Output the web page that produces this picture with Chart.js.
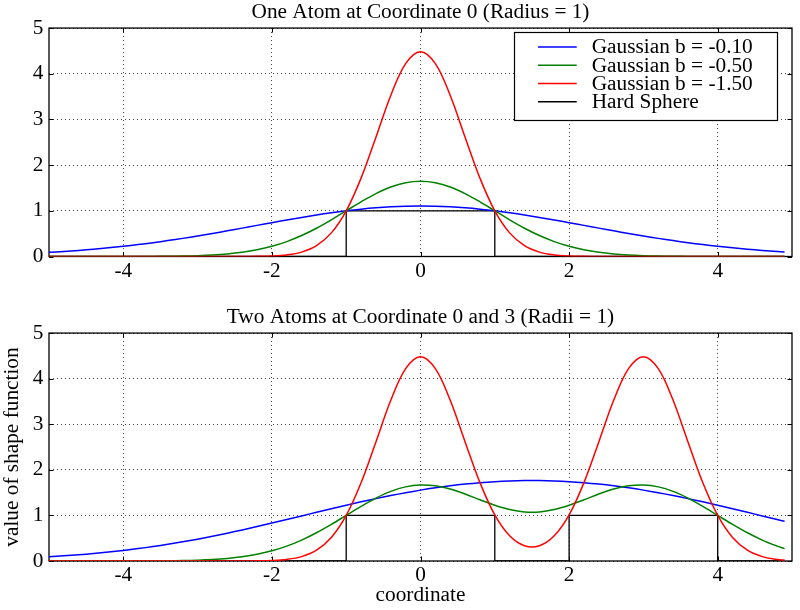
<!DOCTYPE html>
<html><head><meta charset="utf-8">
<script src="https://cdn.jsdelivr.net/npm/chart.js@4.4.1/dist/chart.umd.min.js"></script>
<style>
html,body{margin:0;padding:0;background:#fff;overflow:hidden;width:800px;height:610px;}
#c1{position:absolute;left:0;top:0;}
#c2{position:absolute;left:0;top:305px;}
</style></head><body>
<canvas id="c1" width="800" height="290"></canvas>
<canvas id="c2" width="800" height="305"></canvas>
<script>
// ---------- data ----------
const titles = ['One Atom at Coordinate 0 (Radius = 1)', 'Two Atoms at Coordinate 0 and 3 (Radii = 1)'];
const xLabel = 'coordinate';
const yLabel = 'value of shape function';
const seriesNames = ['Gaussian b = -0.10', 'Gaussian b = -0.50', 'Gaussian b = -1.50', 'Hard Sphere'];
const xTicks = [-4, -2, 0, 2, 4];
const yTicks = [0, 1, 2, 3, 4, 5];

const xs = [-5.0,-4.8,-4.6,-4.4,-4.2,-4.0,-3.8,-3.6,-3.4,-3.2,-3.0,-2.8,-2.6,-2.4,-2.2,-2.0,-1.8,-1.6,-1.4,-1.2,-1.0,-0.8,-0.6,-0.4,-0.2,
  0.0,0.2,0.4,0.6,0.8,1.0,1.2,1.4,1.6,1.8,2.0,2.2,2.4,2.6,2.8,3.0,3.2,3.4,3.6,3.8,4.0,4.2,4.4,4.6,4.8,4.9];

// one atom
const topBlue = [0.0907,0.1104,0.1332,0.1594,0.1894,0.2231,0.2608,0.3024,0.3478,0.3969,0.4493,0.5046,0.5621,0.6213,0.6811,0.7408,0.7993,0.8556,0.9085,0.9570,1.0000,1.0367,1.0661,1.0876,1.1008,
  1.1052,
  1.1008,1.0876,1.0661,1.0367,1.0000,0.9570,0.9085,0.8556,0.7993,0.7408,0.6811,0.6213,0.5621,0.5046,0.4493,0.3969,0.3478,0.3024,0.2608,0.2231,0.1894,0.1594,0.1332,0.1104,
  0.1002];
const topGreen = [0.0000,0.0000,0.0000,0.0001,0.0002,0.0006,0.0012,0.0025,0.0051,0.0099,0.0183,0.0327,0.0561,0.0926,0.1466,0.2231,0.3263,0.4584,0.6188,0.8025,1.0000,1.1972,1.3771,1.5220,1.6161,
  1.6487,
  1.6161,1.5220,1.3771,1.1972,1.0000,0.8025,0.6188,0.4584,0.3263,0.2231,0.1466,0.0926,0.0561,0.0327,0.0183,0.0099,0.0051,0.0025,0.0012,0.0006,0.0002,0.0001,0.0000,0.0000,
  0.0000];
const topRed = [0,0,0,0,0,0,0,0,0,0,0,0,0.0002,0.0008,0.0032,0.0111,0.0347,0.0963,0.2369,0.5169,1.0000,1.7160,2.6117,3.5254,4.2207,
  4.4817,
  4.2207,3.5254,2.6117,1.7160,1.0000,0.5169,0.2369,0.0963,0.0347,0.0111,0.0032,0.0008,0.0002,0,0,0,0,0,0,0,0,0,0,0,0,
  0];
const topHardX = [-5, -1, -1, 1, 1, 4.9];
const topHardY = [0, 0, 1, 1, 0, 0];

// two atoms
const botBlue = [0.0925,0.1129,0.1366,0.1640,0.1956,0.2313,0.2716,0.3166,0.3662,0.4206,0.4795,0.5428,0.6101,0.6811,0.7551,0.8315,0.9097,0.9888,1.0679,1.1464,1.2231,1.2975,1.3685,1.4354,1.4977,
  1.5545,
  1.6054,1.6497,1.6874,1.7178,1.7408,1.7563,1.7641,1.7641,1.7563,1.7408,1.7178,1.6874,1.6497,1.6054,1.5545,1.4977,1.4354,1.3685,1.2975,1.2231,1.1464,1.0679,0.9888,0.9097,
  0.8705];
const botGreen = [0.0000,0.0000,0.0000,0.0001,0.0002,0.0006,0.0012,0.0025,0.0051,0.0099,0.0183,0.0327,0.0561,0.0926,0.1466,0.2231,0.3263,0.4584,0.6189,0.8027,1.0006,1.1984,1.3796,1.5271,1.6260,
  1.6670,
  1.6488,1.5781,1.4697,1.3438,1.2231,1.1288,1.0772,1.0772,1.1288,1.2231,1.3438,1.4697,1.5781,1.6488,1.6670,1.6260,1.5271,1.3796,1.1984,1.0006,0.8027,0.6189,0.4584,0.3263,
  0.2712];
const botRed = [0,0,0,0,0,0,0,0,0,0,0,0,0.0002,0.0008,0.0032,0.0111,0.0347,0.0963,0.2369,0.5169,1.0000,1.7160,2.6117,3.5254,4.2207,
  4.4817,
  4.2207,3.5256,2.6125,1.7192,1.0111,0.5516,0.3332,0.3332,0.5516,1.0111,1.7192,2.6125,3.5256,4.2207,4.4817,4.2207,3.5254,2.6117,1.7160,1.0000,0.5169,0.2369,0.0963,0.0347,
  0.0199];
const botHardX = [-5, -1, -1, 1, 1, 2, 2, 4, 4, 4.9];
const botHardY = [0, 0, 1, 1, 0, 0, 1, 1, 0, 0];

// ---------- styling ----------
const FONT = '"Liberation Serif", "Times New Roman", Times, serif';
const FS = 21.3;
Chart.defaults.font.family = FONT;
Chart.defaults.font.size = FS;
Chart.defaults.color = '#000';
const colors = ['#0000ff', '#008000', '#ff0000', '#000000'];

const pts = (X, Y) => X.map((x, i) => ({x: x, y: Y[i]}));

function makeDatasets(b, g, r, hx, hy) {
  const ys = [b, g, r];
  const ds = ys.map((y, i) => ({
    label: seriesNames[i], data: pts(xs, y), borderColor: colors[i], backgroundColor: colors[i],
    borderWidth: 1.5, pointRadius: 0, tension: 0.35, fill: false, order: 3 - i
  }));
  ds.push({label: seriesNames[3], data: pts(hx, hy), borderColor: colors[3], backgroundColor: colors[3],
    borderWidth: 1.3, pointRadius: 0, tension: 0, fill: false, order: 4});
  return ds;
}

const framePlugin = {
  id: 'frame',
  beforeDatasetsDraw(chart) {
    const {ctx, chartArea: a, scales: {x, y}} = chart;
    ctx.save();
    ctx.strokeStyle = '#000';
    ctx.lineWidth = 1.3;
    ctx.strokeRect(a.left, a.top, a.right - a.left, a.bottom - a.top);
    ctx.lineWidth = 1;
    ctx.beginPath();
    const L = 4.5;
    x.ticks.forEach(t => {
      const p = Math.round(x.getPixelForValue(t.value)) + 0.5;
      ctx.moveTo(p, a.bottom); ctx.lineTo(p, a.bottom - L);
      ctx.moveTo(p, a.top); ctx.lineTo(p, a.top + L);
    });
    y.ticks.forEach(t => {
      const p = Math.round(y.getPixelForValue(t.value)) + 0.5;
      ctx.moveTo(a.left, p); ctx.lineTo(a.left + L, p);
      ctx.moveTo(a.right, p); ctx.lineTo(a.right - L, p);
    });
    ctx.stroke();
    ctx.restore();
  }
};

const legendPlugin = {
  id: 'boxLegend',
  afterDraw(chart) {
    const {ctx, chartArea: a} = chart;
    const right = a.right - 14.7, top = a.top + 4.3;
    const w = 263.3, h = 87.7;
    const left = right - w;
    ctx.save();
    ctx.fillStyle = '#fff';
    ctx.fillRect(left, top, w, h);
    ctx.strokeStyle = '#000';
    ctx.lineWidth = 1.2;
    ctx.strokeRect(Math.round(left) + 0.5, Math.round(top) + 0.5, Math.round(w), Math.round(h));
    ctx.font = FS + 'px ' + FONT;
    ctx.textBaseline = 'middle';
    ctx.textAlign = 'left';
    chart.data.datasets.forEach((d, i) => {
      const yy = top + 14.6 + i * 18.3;
      ctx.strokeStyle = d.borderColor;
      ctx.lineWidth = 1.5;
      ctx.beginPath();
      ctx.moveTo(left + 24, yy); ctx.lineTo(left + 62.7, yy);
      ctx.stroke();
      ctx.fillStyle = '#000';
      ctx.fillText(d.label, left + 77.7, yy + 0.8);
    });
    ctx.restore();
  }
};

function makeOptions(idx) {
  const bottomChart = idx === 1;
  return {
    responsive: false, animation: false, devicePixelRatio: 1,
    layout: {padding: {left: 0, right: 8, top: 0, bottom: 0}},
    plugins: {
      legend: {display: false}, tooltip: {enabled: false},
      title: {display: true, text: titles[idx], fullSize: false, color: '#000',
        padding: {top: 0, bottom: 2.5}, font: {size: FS, weight: 'normal', family: FONT}}
    },
    scales: {
      x: {
        type: 'linear', min: -5, max: 5,
        afterBuildTicks: s => { s.ticks = xTicks.map(v => ({value: v})); },
        afterFit: s => { s.height = bottomChart ? 49 : 33.5; },
        grid: {color: 'rgba(0,0,0,0.75)', lineWidth: 1, drawTicks: false},
        border: {display: false, dash: [1, 3]},
        ticks: {padding: 2, maxRotation: 0, autoSkip: false, color: '#000', callback: v => String(v)},
        title: {display: bottomChart, text: xLabel, color: '#000', padding: {top: 0, bottom: 1.4}, font: {size: FS, family: FONT}}
      },
      y: {
        type: 'linear', min: 0, max: 5,
        afterBuildTicks: s => { s.ticks = yTicks.map(v => ({value: v})); },
        afterFit: s => { s.width = 49; },
        grid: {color: 'rgba(0,0,0,0.75)', lineWidth: 1, drawTicks: false},
        border: {display: false, dash: [1, 3]},
        ticks: {padding: 5.7, color: '#000', callback: v => String(v)},
        title: {display: bottomChart, text: yLabel, color: '#000', padding: {top: 0, bottom: 0}, font: {size: FS, family: FONT}}
      }
    }
  };
}

new Chart(document.getElementById('c1'), {
  type: 'line',
  data: {datasets: makeDatasets(topBlue, topGreen, topRed, topHardX, topHardY)},
  options: makeOptions(0),
  plugins: [framePlugin, legendPlugin]
});
new Chart(document.getElementById('c2'), {
  type: 'line',
  data: {datasets: makeDatasets(botBlue, botGreen, botRed, botHardX, botHardY)},
  options: makeOptions(1),
  plugins: [framePlugin]
});
</script></body></html>
